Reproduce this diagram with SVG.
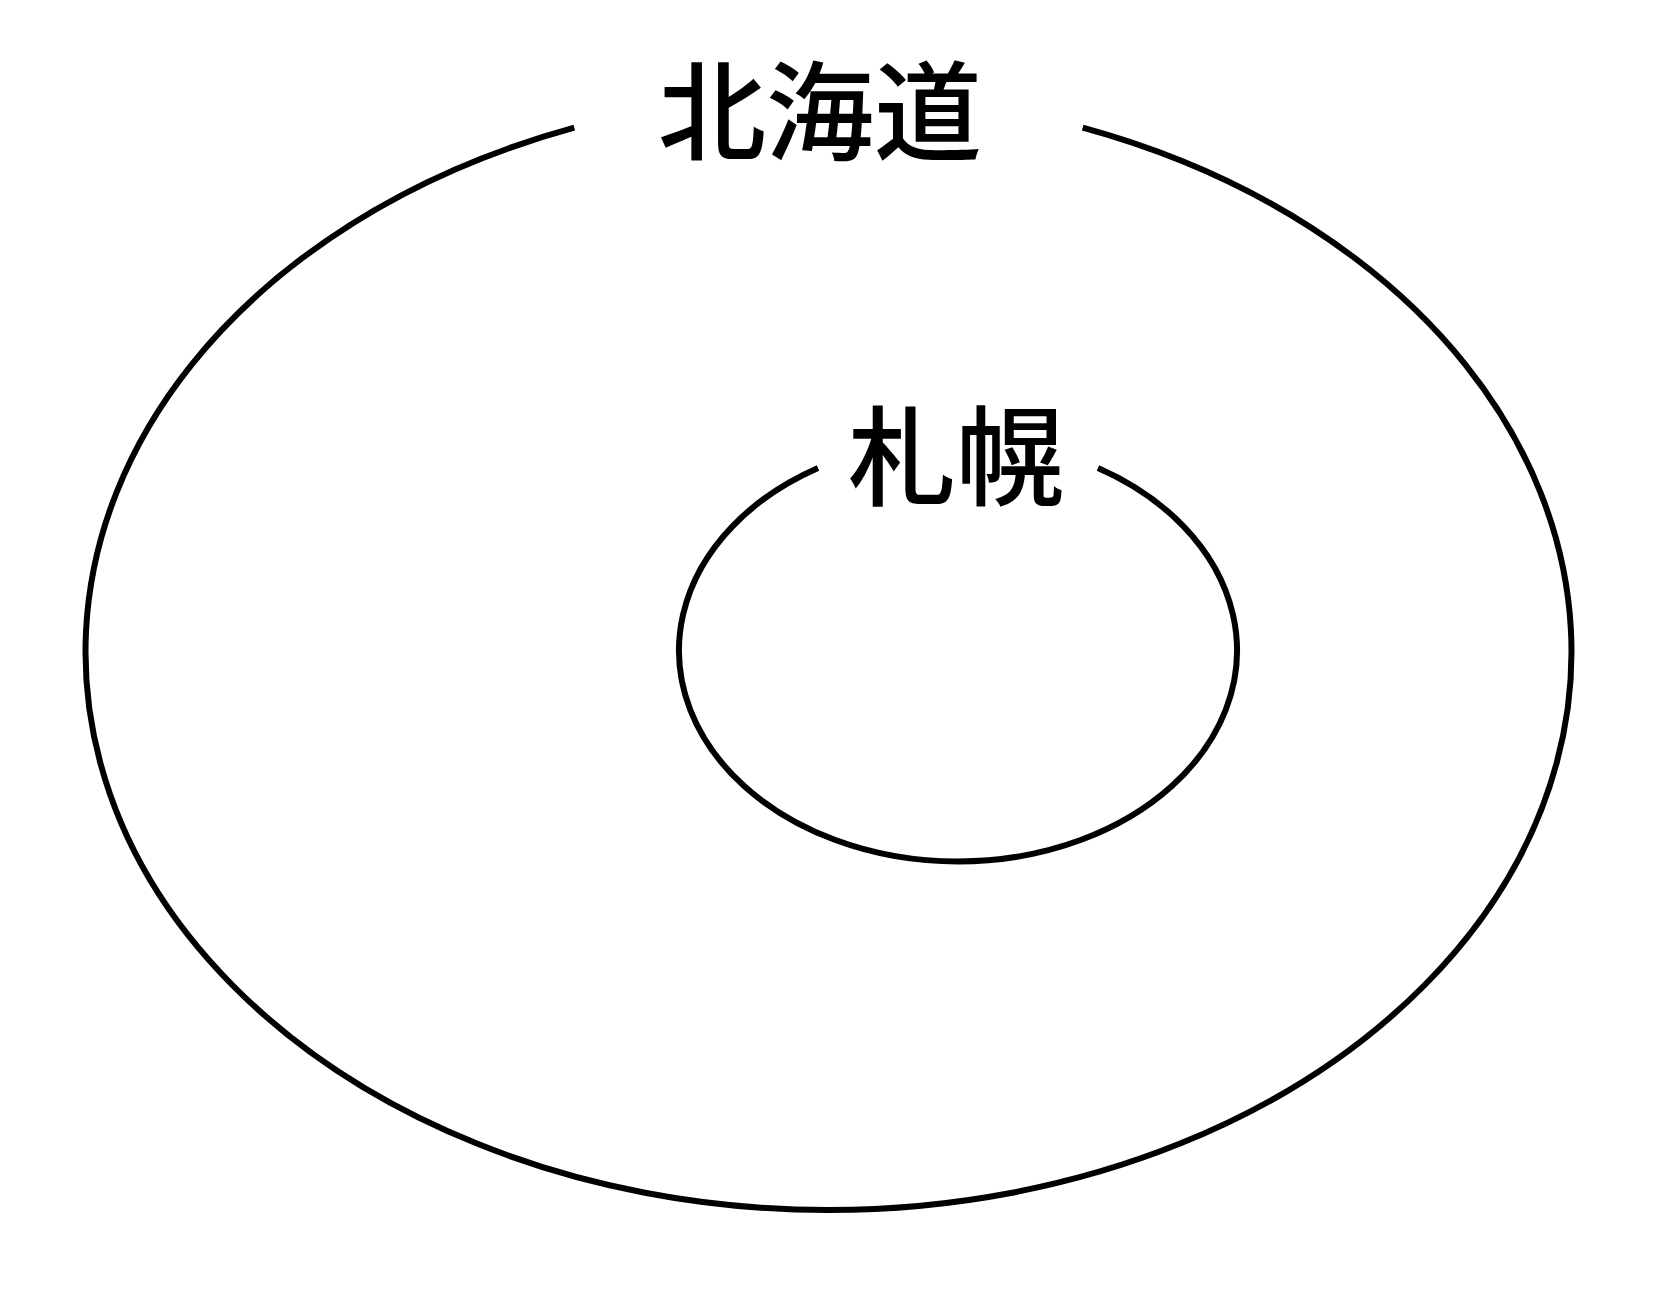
<svg xmlns="http://www.w3.org/2000/svg" width="1654" height="1296" viewBox="0 0 1654 1296">
  <style>
    .ring { fill: none; stroke: #000; stroke-width: 6; }
    .label { font-family: "Noto Sans CJK JP", "Noto Sans CJK SC", sans-serif; font-size: 108px; font-weight: 500; fill: #000; text-anchor: middle; }
  </style>
  <rect width="1654" height="1296" fill="#fff"/>
  <g id="hokkaido">
    <path class="ring" d="M574.3,127.7 A743,558 0 1 0 1082.7,127.7"/>
    <text class="label" x="820" y="152">北海道</text>
  </g>
  <g id="sapporo">
    <path class="ring" d="M818,468 A279,211 0 1 0 1098,468"/>
    <text class="label" x="956" y="497">札幌</text>
  </g>
  <g id="connectors"/>
</svg>
